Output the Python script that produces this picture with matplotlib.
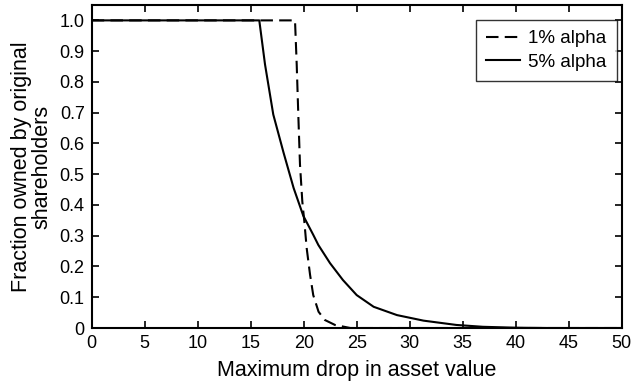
import matplotlib
matplotlib.use("Agg")
import matplotlib.pyplot as plt

plt.rcParams['font.family'] = ['Liberation Sans', 'DejaVu Sans']

# 1% alpha (dashed)
x_1pct = [0, 19.18, 19.34, 19.49, 19.65, 19.87, 20.06, 20.28, 20.6, 20.9, 21.4, 22.0, 22.95, 24.4, 50]
y_1pct = [1.0, 1.0, 0.857, 0.694, 0.531, 0.411, 0.346, 0.26, 0.173, 0.107, 0.053, 0.026, 0.01, 0.0, 0.0]

# 5% alpha (solid)
x_5pct = [0, 15.81, 16.35, 17.13, 18.1, 19.05, 19.96, 20.9, 21.38, 22.48, 23.7, 25.0, 26.6, 28.8,
          31.3, 34.4, 36.9, 40.0, 43.0, 50]
y_5pct = [1.0, 1.0, 0.857, 0.694, 0.57, 0.455, 0.365, 0.303, 0.27, 0.211, 0.156, 0.107, 0.069, 0.042,
          0.024, 0.01, 0.004, 0.001, 0.0, 0.0]

xticks = list(range(0, 51, 5))
yticks = [0, 0.1, 0.2, 0.3, 0.4, 0.5, 0.6, 0.7, 0.8, 0.9, 1.0]
ytick_labels = ['0', '0.1', '0.2', '0.3', '0.4', '0.5', '0.6', '0.7', '0.8', '0.9', '1.0']

fig = plt.figure(figsize=(6.31, 3.85), dpi=100)
ax = fig.add_axes([0.1453, 0.148, 0.840, 0.839])

ax.plot(x_1pct, y_1pct, color='black', linestyle=(0, (6, 3)), linewidth=1.5, label='1% alpha')
ax.plot(x_5pct, y_5pct, color='black', linestyle='-', linewidth=1.5, label='5% alpha')

ax.set_xlim(0, 50)
ax.set_ylim(0, 1.05)
ax.set_xticks(xticks)
ax.set_yticks(yticks)
ax.set_yticklabels(ytick_labels)
ax.tick_params(direction='in', top=True, right=True, labelsize=13, length=5, width=1.2, pad=5)
for s in ax.spines.values():
    s.set_linewidth(1.5)

ax.set_xlabel('Maximum drop in asset value', fontsize=15.5, labelpad=6)
ax.set_ylabel('Fraction owned by original\nshareholders', fontsize=15.5, labelpad=5, linespacing=1.0)

leg = ax.legend(loc='upper right', fontsize=13.5, fancybox=False, edgecolor='black',
                handlelength=1.8, borderaxespad=0, handletextpad=0.45, labelspacing=0.35,
                borderpad=0.55, bbox_to_anchor=(0.991, 0.954))
leg.get_frame().set_linewidth(1.0)

fig.savefig('out.png', dpi=100)
